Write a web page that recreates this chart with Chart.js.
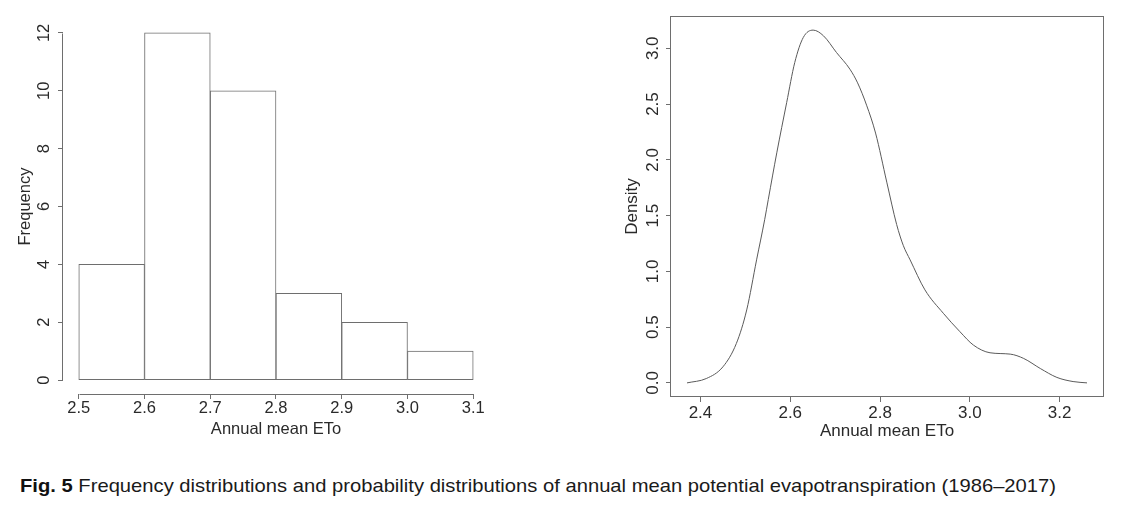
<!DOCTYPE html>
<html><head><meta charset="utf-8">
<script src="https://cdn.jsdelivr.net/npm/chart.js@4.4.1/dist/chart.umd.min.js"></script>
<style>
html,body{margin:0;padding:0;background:#fff;width:1122px;height:511px;overflow:hidden}
canvas{position:absolute;top:0}
#c1{left:0}
#c2{left:560px}
#cap{position:absolute;left:20px;top:475px;font-family:"Liberation Sans",Arial,sans-serif;font-size:19px;color:#1a1a1a;white-space:nowrap;transform-origin:0 0;line-height:22px}
#cap b{font-weight:bold;color:#111}
</style></head><body>
<canvas id="c1" width="560" height="450"></canvas>
<canvas id="c2" width="562" height="450"></canvas>
<div id="cap"><b>Fig. 5</b> Frequency distributions and probability distributions of annual mean potential evapotranspiration (1986–2017)</div>
<script>
// ---- data ----
const binEdges = [2.5, 2.6, 2.7, 2.8, 2.9, 3.0, 3.1];
const freqCounts = [4, 12, 10, 3, 2, 1];
const histXTicks = [2.5, 2.6, 2.7, 2.8, 2.9, 3.0, 3.1];
const histYTicks = [0, 2, 4, 6, 8, 10, 12];

const densX = [2.370, 2.413, 2.450, 2.480, 2.503, 2.525, 2.543, 2.551, 2.570, 2.592, 2.610, 2.629, 2.651, 2.674, 2.703, 2.733, 2.750, 2.770, 2.790, 2.815, 2.837, 2.852, 2.867, 2.900, 2.941, 2.978, 3.008, 3.045, 3.090, 3.120, 3.157, 3.194, 3.230, 3.261];
const densY = [0.000, 0.039, 0.144, 0.354, 0.654, 1.103, 1.463, 1.643, 2.063, 2.513, 2.872, 3.097, 3.163, 3.112, 2.962, 2.812, 2.690, 2.490, 2.240, 1.800, 1.420, 1.230, 1.103, 0.834, 0.624, 0.459, 0.339, 0.270, 0.258, 0.219, 0.129, 0.049, 0.012, 0.000];
const densXTicks = [2.4, 2.6, 2.8, 3.0, 3.2];
const densYTicks = [0.0, 0.5, 1.0, 1.5, 2.0, 2.5, 3.0];

// ---- style ----
const FAM = '"Liberation Sans", Arial, Helvetica, sans-serif';
const TXT = '#2a2a2a';
const AX = '#6e6e6e';

function ext(lo, hi) { const d = (hi - lo) * 0.04; return [lo - d, hi + d]; }

// R-style axis lines (only between first and last tick)
const rAxes = {
  id: 'rAxes',
  afterDraw(chart) {
    const {ctx, chartArea: a, scales: {x, y}} = chart;
    ctx.save();
    ctx.strokeStyle = AX; ctx.lineWidth = 1;
    ctx.beginPath();
    const yb = Math.round(a.bottom) + 0.5;
    ctx.moveTo(Math.round(x.getPixelForValue(x.ticks[0].value)) + 0.5, yb);
    ctx.lineTo(Math.round(x.getPixelForValue(x.ticks[x.ticks.length - 1].value)) + 0.5, yb);
    const xl = Math.round(a.left) - 0.5;
    ctx.moveTo(xl, Math.round(y.getPixelForValue(y.ticks[0].value)) + 0.5);
    ctx.lineTo(xl, Math.round(y.getPixelForValue(y.ticks[y.ticks.length - 1].value)) + 0.5);
    ctx.stroke();
    ctx.restore();
  }
};
const rBox = {
  id: 'rBox',
  afterDraw(chart) {
    const {ctx, chartArea: a} = chart;
    ctx.save();
    ctx.strokeStyle = AX; ctx.lineWidth = 1;
    ctx.strokeRect(Math.round(a.left) - 0.5, Math.round(a.top) + 0.5, Math.round(a.right - a.left) + 1, Math.round(a.bottom - a.top) - 1);
    ctx.restore();
  }
};

function tickSet(arr) { return s => { s.ticks = arr.map(v => ({value: v})); }; }

// ---- histogram ----
const [hx0, hx1] = ext(binEdges[0], binEdges[binEdges.length - 1]);
const [hy0, hy1] = ext(0, Math.max(...freqCounts));
new Chart(document.getElementById('c1'), {
  type: 'bar',
  data: {
    datasets: [{
      data: freqCounts.map((c, i) => ({x: (binEdges[i] + binEdges[i + 1]) / 2, y: c})),
      backgroundColor: '#ffffff',
      borderColor: AX,
      borderWidth: 1,
      borderSkipped: false,
      barPercentage: 1,
      categoryPercentage: 1
    }]
  },
  options: {
    responsive: false, animation: false, devicePixelRatio: 1,
    plugins: {legend: {display: false}, tooltip: {enabled: false}},
    layout: {padding: {left: 0, right: 71, top: 19, bottom: 0}},
    scales: {
      x: {
        type: 'linear', min: hx0, max: hx1, offset: false,
        afterBuildTicks: tickSet(histXTicks),
        afterFit: s => { s.height = 56; },
        ticks: {color: TXT, font: {family: FAM, size: 16.5}, padding: 0, maxRotation: 0, autoSkip: false, callback: v => Number(v).toFixed(1)},
        grid: {display: true, offset: false, drawOnChartArea: false, drawTicks: true, tickLength: 5, color: AX, lineWidth: 1},
        border: {display: false},
        title: {display: true, text: 'Annual mean ETo', color: TXT, font: {family: FAM, size: 16.5}, padding: {top: 0, bottom: 11}}
      },
      y: {
        type: 'linear', min: hy0, max: hy1,
        afterBuildTicks: tickSet(histYTicks),
        afterFit: s => { s.width = 63; },
        ticks: {color: TXT, font: {family: FAM, size: 16.5}, padding: 4, minRotation: 90, maxRotation: 90, crossAlign: 'center', autoSkip: false, callback: v => String(v)},
        grid: {display: true, drawOnChartArea: false, drawTicks: true, tickLength: 5, color: AX, lineWidth: 1},
        border: {display: false},
        title: {display: true, text: 'Frequency', color: TXT, font: {family: FAM, size: 16.5}, padding: {top: 16, bottom: 0}}
      }
    }
  },
  plugins: [rAxes]
});

// ---- density ----
const [dx0, dx1] = ext(densX[0], densX[densX.length - 1]);
const [dy0, dy1] = ext(0, Math.max(...densY));
new Chart(document.getElementById('c2'), {
  type: 'line',
  data: {
    datasets: [{
      data: densX.map((x, i) => ({x: x, y: densY[i]})),
      borderColor: '#5a5a5a', borderWidth: 1, pointRadius: 0, fill: false,
      cubicInterpolationMode: 'monotone'
    }]
  },
  options: {
    responsive: false, animation: false, devicePixelRatio: 1,
    plugins: {legend: {display: false}, tooltip: {enabled: false}},
    layout: {padding: {left: 50, right: 19, top: 16, bottom: 0}},
    scales: {
      x: {
        type: 'linear', min: dx0, max: dx1, offset: false,
        afterBuildTicks: tickSet(densXTicks),
        afterFit: s => { s.height = 53; },
        ticks: {color: TXT, font: {family: FAM, size: 17}, padding: 1, maxRotation: 0, autoSkip: false, callback: v => Number(v).toFixed(1)},
        grid: {display: true, drawOnChartArea: false, drawTicks: true, tickLength: 5, color: AX, lineWidth: 1},
        border: {display: false},
        title: {display: true, text: 'Annual mean ETo', color: TXT, font: {family: FAM, size: 17}, padding: {top: 0, bottom: 8}}
      },
      y: {
        type: 'linear', min: dy0, max: dy1,
        afterBuildTicks: tickSet(densYTicks),
        afterFit: s => { s.width = 61; },
        ticks: {color: TXT, font: {family: FAM, size: 17}, padding: 1, minRotation: 90, maxRotation: 90, crossAlign: 'center', autoSkip: false, callback: v => Number(v).toFixed(1)},
        grid: {display: true, drawOnChartArea: false, drawTicks: true, tickLength: 5, color: AX, lineWidth: 1},
        border: {display: false},
        title: {display: true, text: 'Density', color: TXT, font: {family: FAM, size: 17}, padding: {top: 12, bottom: 0}}
      }
    }
  },
  plugins: [rBox]
});

// fit caption to reference width
const cap = document.getElementById('cap');
const w = cap.getBoundingClientRect().width;
cap.style.transform = 'scaleX(' + (1036 / w) + ')';
</script>
</body></html>
